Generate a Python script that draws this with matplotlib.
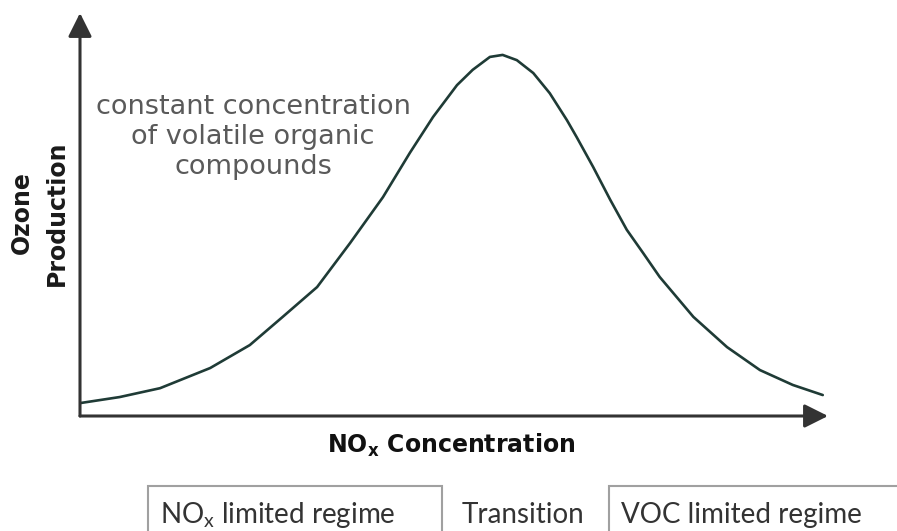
import numpy as np
import matplotlib
matplotlib.use("Agg")
import matplotlib.pyplot as plt
from matplotlib.patches import Rectangle

plt.rcParams["mathtext.fontset"] = "custom"
plt.rcParams["mathtext.rm"] = "Lato"
plt.rcParams["mathtext.bf"] = "DejaVu Sans:bold"
plt.rcParams["mathtext.it"] = "DejaVu Sans:italic"

# NOx concentration (arbitrary units) vs ozone production
nox = [0.0, 0.53, 1.07, 1.74, 2.27, 2.71, 3.17, 3.61, 4.05, 4.41, 4.72, 5.04,
       5.25, 5.48, 5.65, 5.84, 6.06, 6.28, 6.51, 6.64, 6.86, 7.09, 7.31, 7.53,
       7.75, 8.20, 8.65, 9.09, 9.53, 9.93]
ozone = [0.32, 0.47, 0.69, 1.19, 1.76, 2.46, 3.20, 4.29, 5.43, 6.53, 7.42, 8.21,
         8.59, 8.91, 8.96, 8.83, 8.51, 8.01, 7.34, 6.92, 6.18, 5.36, 4.62, 4.04,
         3.45, 2.46, 1.71, 1.14, 0.77, 0.52]

note = "constant concentration\nof volatile organic\ncompounds"
regimes = [r"NO$_\mathregular{x}$ limited regime", "Transition", "VOC limited regime"]

W, H = 897, 531
fig = plt.figure(figsize=(W / 100, H / 100), dpi=100)
fig.patch.set_facecolor("white")

def fx(px):
    return px / W

def fy(py):
    return 1 - py / H

ax = fig.add_axes([fx(80), fy(416), fx(828) - fx(80), fy(13) - fy(416)])
ax.set_xlim(0, 10)
ax.set_ylim(0, 10)
ax.axis("off")

ax.plot(nox, ozone, color="#1f3b36", lw=1.9, solid_capstyle="round",
        solid_joinstyle="round")

arrow = dict(arrowstyle="-|>,head_length=0.4,head_width=0.2", lw=2.2,
             color="#333333", mutation_scale=36, shrinkA=0, shrinkB=0)
ax.annotate("", xy=(1, 0), xytext=(0, 0), xycoords="axes fraction", arrowprops=arrow)
ax.annotate("", xy=(0, 1), xytext=(0, 0), xycoords="axes fraction", arrowprops=arrow)

fig.text(fx(253), fy(137), note, ha="center", va="center", multialignment="center",
         fontsize=19.5, color="#5a5a5a")

fig.text(fx(22), fy(213), "Ozone", rotation=90, ha="center", va="center",
         fontsize=17, fontweight="bold", color="#1a1a1a")
fig.text(fx(57), fy(213), "Production", rotation=90, ha="center", va="center",
         fontsize=17, fontweight="bold", color="#1a1a1a")

fig.text(fx(451), fy(445), r"NO$_\mathbf{x}$ Concentration", ha="center", va="center",
         fontsize=17, fontweight="bold", color="#111111")

for (x0, x1) in [(148, 442), (609, 905)]:
    fig.patches.append(Rectangle((fx(x0), fy(540)), fx(x1) - fx(x0), fy(486) - fy(540),
                                 transform=fig.transFigure, fill=False,
                                 edgecolor="#a0a0a0", lw=1.5))
box_font = dict(fontsize=20, family=["Lato", "DejaVu Sans"], color="#333333",
                va="center")
fig.text(fx(160), fy(515), regimes[0], ha="left", **box_font)
fig.text(fx(523), fy(515), regimes[1], ha="center", **box_font)
fig.text(fx(621), fy(515), regimes[2], ha="left", **box_font)

fig.savefig("out.png", dpi=100)
